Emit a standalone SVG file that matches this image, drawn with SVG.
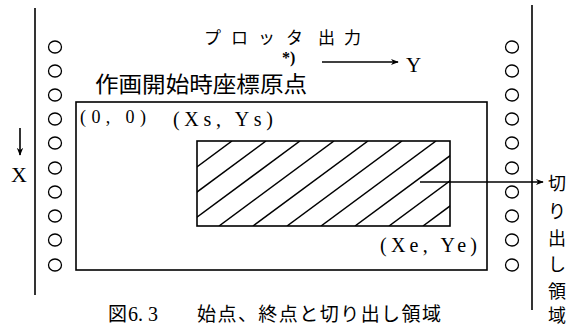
<svg xmlns="http://www.w3.org/2000/svg" width="573" height="328" viewBox="0 0 573 328">
<style>
.ln{stroke:#000;stroke-width:1.6;fill:none}
.hole{stroke:#000;stroke-width:1.3;fill:none}
.jp{font-family:"Noto Sans CJK JP","Noto Sans",sans-serif;fill:#000}
.sr{font-family:"Liberation Serif","DejaVu Serif",serif;fill:#000}
.hatch{stroke:#000;stroke-width:1.5}
</style>
<defs>
<marker id="ah" viewBox="0 0 10 10" refX="9" refY="5" markerWidth="8" markerHeight="8" markerUnits="userSpaceOnUse" orient="auto">
<path d="M0,1 L10,5 L0,9 L3,5 Z" fill="#000"/>
</marker>
<clipPath id="hc"><rect x="197" y="141" width="253" height="85"/></clipPath>
<ellipse id="c" cx="0" cy="0" rx="6.5" ry="6" class="hole"/>
</defs>
<rect width="573" height="328" fill="#fff"/>
<g id="paper-left">
<line class="ln" x1="35" y1="8" x2="35" y2="295"/>
<use href="#c" x="55" y="47"/><use href="#c" x="55" y="71"/><use href="#c" x="55" y="95"/><use href="#c" x="55" y="119"/><use href="#c" x="55" y="143"/><use href="#c" x="55" y="168"/><use href="#c" x="55" y="192"/><use href="#c" x="55" y="216"/><use href="#c" x="55" y="240"/><use href="#c" x="55" y="265"/>
</g>
<g id="paper-right">
<line class="ln" x1="532" y1="5" x2="532" y2="310"/>
<use href="#c" x="512" y="47"/><use href="#c" x="512" y="71"/><use href="#c" x="512" y="95"/><use href="#c" x="512" y="119"/><use href="#c" x="512" y="143"/><use href="#c" x="512" y="168"/><use href="#c" x="512" y="192"/><use href="#c" x="512" y="216"/><use href="#c" x="512" y="240"/><use href="#c" x="512" y="265"/>
</g>
<g id="title">
<text class="jp" font-size="17" y="44"><tspan x="204">プ</tspan><tspan x="231">ロ</tspan><tspan x="258">ッ</tspan><tspan x="286">タ</tspan><tspan x="318">出</tspan><tspan x="344">力</tspan></text>
</g>
<g id="y-axis">
<text class="sr" font-size="16" font-weight="bold" x="282" y="63">*)</text>
<text class="sr" font-size="21" x="406" y="72">Y</text>
</g>
<g id="x-axis">
<text class="sr" font-size="22" x="11" y="182">X</text>
</g>
<g id="origin-label">
<text class="jp" font-size="22" x="95" y="92" textLength="212" lengthAdjust="spacingAndGlyphs">作画開始時座標原点</text>
</g>
<g id="frame">
<rect class="ln" x="76" y="102" width="411" height="168"/>
<text class="sr" font-size="18" x="80" y="123" textLength="66" lengthAdjust="spacing">(0,&#160;0)</text>
</g>
<g id="clip-area">
<rect class="ln" x="197" y="141" width="253" height="85"/>
<g clip-path="url(#hc)" class="hatch">
<line x1="232" y1="141" x2="117" y2="226"/>
<line x1="266" y1="141" x2="151" y2="226"/>
<line x1="300" y1="141" x2="185" y2="226"/>
<line x1="334" y1="141" x2="219" y2="226"/>
<line x1="368" y1="141" x2="253" y2="226"/>
<line x1="402" y1="141" x2="287" y2="226"/>
<line x1="436" y1="141" x2="321" y2="226"/>
<line x1="470" y1="141" x2="355" y2="226"/>
<line x1="504" y1="141" x2="389" y2="226"/>
<line x1="538" y1="141" x2="423" y2="226"/>
</g>
<text class="sr" font-size="20" x="173" y="126" textLength="100" lengthAdjust="spacing">(Xs, Ys)</text>
<text class="sr" font-size="20" x="380" y="252" textLength="97" lengthAdjust="spacing">(Xe, Ye)</text>
</g>
<g id="clip-label">
<text class="jp" font-size="18" text-anchor="middle"><tspan x="557" y="190">切</tspan><tspan x="557" y="218">り</tspan><tspan x="557" y="245">出</tspan><tspan x="557" y="271">し</tspan><tspan x="557" y="298">領</tspan><tspan x="557" y="322">域</tspan></text>
</g>
<g id="connectors">
<line class="ln" x1="322" y1="62" x2="398" y2="62" marker-end="url(#ah)"/>
<line class="ln" x1="20" y1="128" x2="20" y2="155" marker-end="url(#ah)"/>
<line class="ln" x1="420" y1="182" x2="543" y2="182" marker-end="url(#ah)"/>
</g>
<g id="caption">
<text class="jp" font-size="19" y="321"><tspan x="108">図</tspan><tspan class="sr" font-size="20" x="128">6. 3</tspan><tspan x="197" textLength="244" lengthAdjust="spacing">始点、終点と切り出し領域</tspan></text>
</g>
</svg>
